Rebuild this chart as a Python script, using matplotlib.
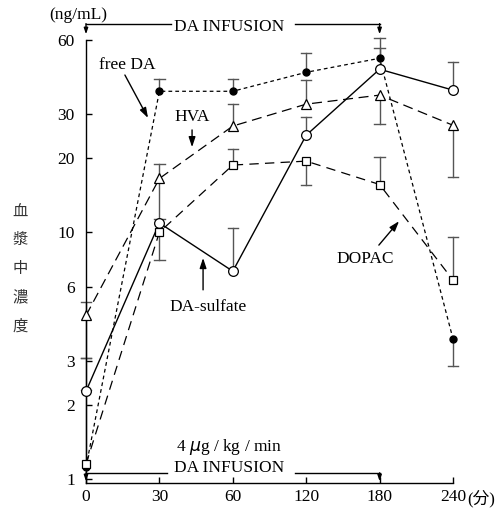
import matplotlib
matplotlib.use('Agg')
import matplotlib.pyplot as plt
import numpy as np

plt.rcParams['font.family'] = ['Liberation Serif', 'Noto Sans CJK JP']

nan = np.nan
times = ['0', '30', '60', '120', '180', '240']
x_unit = '(分)'
x = np.arange(len(times))

free_da = [1.12, 37.2, 37.2, 44.4, 50.6, 3.7]
free_da_hi = [nan, 41.6, 41.6, 53.0, 55.6, nan]
free_da_lo = [nan, nan, nan, nan, nan, 2.87]

da_sulfate = [2.27, 10.9, 6.95, 24.7, 45.7, 37.6]
da_sulfate_hi = [3.1, nan, 10.4, 29.2, 61.0, 48.8]
da_sulfate_lo = [nan, nan, nan, nan, nan, nan]

hva = [4.6, 16.5, 26.9, 33.0, 35.9, 27.1]
hva_hi = [5.2, 18.9, 33.0, 41.2, nan, nan]
hva_lo = [3.1, 11.3, nan, nan, 27.4, 16.7]

dopac = [1.15, 10.0, 18.7, 19.4, 15.6, 6.4]
dopac_hi = [2.3, nan, 21.7, nan, 20.1, 9.55]
dopac_lo = [nan, 7.7, nan, 15.5, nan, nan]

yticks = [1, 2, 3, 6, 10, 20, 30, 60]

fig = plt.figure(figsize=(5.0, 5.11), dpi=100)
ax = fig.add_axes([0.172, 0.0548, 0.734, 0.8669])
ax.set_yscale('log')
ax.set_xlim(0, 5)
ax.set_ylim(0.965, 60)

ecol = '#555555'
cw = 0.07


def err(xs, ys, his, los):
    for xi, yi, h, l in zip(xs, ys, his, los):
        for e in (h, l):
            if not np.isnan(e):
                ax.plot([xi, xi], [yi, e], color=ecol, lw=1.0, zorder=2, clip_on=False)
                ax.plot([xi - cw, xi + cw], [e, e], color=ecol, lw=1.0, zorder=2, clip_on=False)


err(x, free_da, free_da_hi, free_da_lo)
err(x, da_sulfate, da_sulfate_hi, da_sulfate_lo)
err(x, hva, hva_hi, hva_lo)
err(x, dopac, dopac_hi, dopac_lo)

ax.plot(x, free_da, color='black', lw=0.9, dashes=(3, 2.5), marker='o', ms=5,
        mfc='black', mec='black', zorder=4, clip_on=False)
ax.plot(x, da_sulfate, color='black', lw=1.0, ls='-', marker='o', ms=7,
        mfc='white', mec='black', mew=0.9, zorder=4, clip_on=False)
ax.plot(x, hva, color='black', lw=0.9, dashes=(8, 4.5), marker='^', ms=7.5,
        mfc='white', mec='black', mew=0.9, zorder=4, clip_on=False)
ax.plot(x, dopac, color='black', lw=0.9, dashes=(7.5, 5), marker='s', ms=5.5,
        mfc='white', mec='black', mew=0.9, zorder=4, clip_on=False)

# axes styling
for s in ['top', 'right']:
    ax.spines[s].set_visible(False)
ax.spines['left'].set_linewidth(1.0)
ax.spines['bottom'].set_linewidth(1.0)
ax.set_yticks(yticks)
ax.set_yticklabels([str(t) for t in yticks])
ax.yaxis.set_minor_locator(matplotlib.ticker.NullLocator())
ax.set_xticks(x)
ax.set_xticklabels(times)
ax.tick_params(axis='both', direction='in', length=4, width=1.0, labelsize=12.5, pad=4)
ax.tick_params(axis='y', pad=8)

T = ax.transAxes
kw = dict(color='black', fontsize=12.5, transform=T, ha='center', va='center')

# unit after last x tick label
ax.text(1.038, -0.035, x_unit, color='black', fontsize=12, transform=T,
        ha='left', va='center')

# top bracket
ax.text(-0.02, 1.057, '(ng/mL)', **kw)
ax.text(0.39, 1.030, 'DA INFUSION', **kw)
ax.plot([0, 0.232], [1.036, 1.036], color='black', lw=1.0, transform=T, clip_on=False)
ax.plot([0.57, 0.8], [1.036, 1.036], color='black', lw=1.0, transform=T, clip_on=False)
for xa in (0, 0.8):
    ax.annotate('', xy=(xa, 1.013), xytext=(xa, 1.037), xycoords=T, textcoords=T,
                arrowprops=dict(arrowstyle='-|>,head_length=0.35,head_width=0.12', color='black', lw=1.0, shrinkA=0, shrinkB=0))

# bottom bracket
ax.text(0.39, 0.081, '4 $\\mu$g / kg / min', **kw)
ax.text(0.39, 0.034, 'DA INFUSION', **kw)
ax.plot([0, 0.22], [0.0226, 0.0226], color='black', lw=1.0, transform=T, clip_on=False)
ax.plot([0.57, 0.8], [0.0226, 0.0226], color='black', lw=1.0, transform=T, clip_on=False)
for xa in (0, 0.8):
    ax.annotate('', xy=(xa, 0.004), xytext=(xa, 0.023), xycoords=T, textcoords=T,
                arrowprops=dict(arrowstyle='-|>,head_length=0.35,head_width=0.12', color='black', lw=1.0, shrinkA=0, shrinkB=0))

arrow = dict(arrowstyle='-|>,head_length=0.6,head_width=0.2', color='black', lw=1.0, shrinkA=0, shrinkB=0)
ax.text(0.112, 0.944, 'free DA', **kw)
ax.annotate('', xy=(0.169, 0.824), xytext=(0.106, 0.921), xycoords=T, textcoords=T, arrowprops=arrow)
ax.text(0.289, 0.826, 'HVA', **kw)
ax.annotate('', xy=(0.289, 0.758), xytext=(0.289, 0.797), xycoords=T, textcoords=T, arrowprops=arrow)
ax.text(0.332, 0.397, 'DA-sulfate', **kw)
ax.annotate('', xy=(0.319, 0.508), xytext=(0.319, 0.436), xycoords=T, textcoords=T, arrowprops=arrow)
ax.text(0.760, 0.506, 'DOPAC', **kw)
ax.annotate('', xy=(0.853, 0.591), xytext=(0.798, 0.537), xycoords=T, textcoords=T, arrowprops=arrow)

# vertical y label
for i, ch in enumerate('血漿中濃度'):
    fig.text(0.04, (511 - 211 - i * 28.7) / 511, ch, fontsize=11, color='#333333',
             ha='center', va='center', family=['Noto Sans CJK JP'])

fig.savefig('out.png', dpi=100)
